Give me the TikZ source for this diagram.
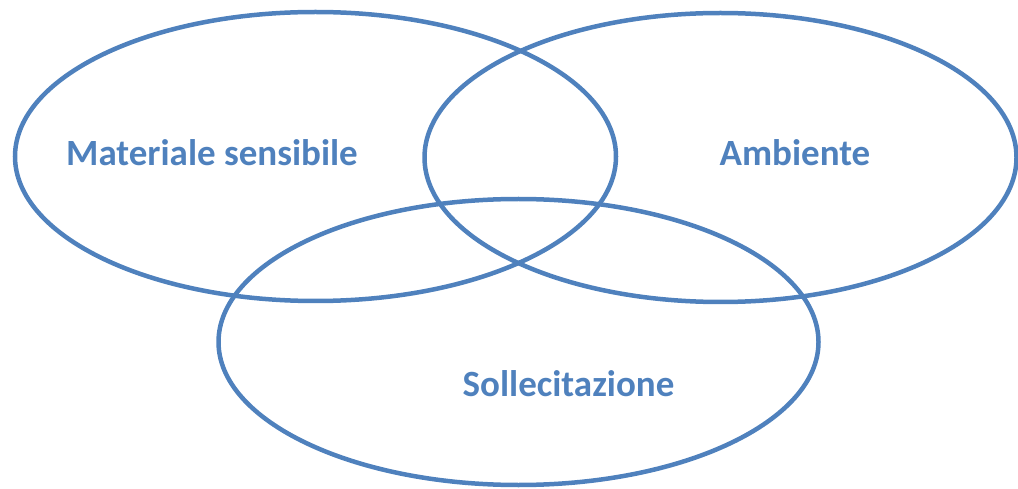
\documentclass[tikz,border=0pt]{standalone}
\usepackage{fontspec}
\setmainfont{Carlito}
\usetikzlibrary{shapes.geometric}
\definecolor{setblue}{HTML}{4F81BD}
\begin{document}
\begin{tikzpicture}[x=1pt,y=-1pt,
  setring/.style={ellipse,draw=setblue,line width=4.5pt,inner sep=0pt},
  setlabel/.style={anchor=base,text=setblue,font=\bfseries\fontsize{37}{44}\selectfont,inner sep=0pt}]
  \useasboundingbox (0,0) rectangle (1018,489);
  % the three overlapping sets
  \node[setring,minimum width=601pt,minimum height=289pt] (mat) at (315.5,156.5) {};
  \node[setring,minimum width=592pt,minimum height=289pt] (amb) at (720.5,157.5) {};
  \node[setring,minimum width=600pt,minimum height=286pt] (sol) at (518.5,342) {};
  % set names
  \node[setlabel] (tmat) at (212,166) {Materiale sensibile};
  \node[setlabel] (tamb) at (795,166) {Ambiente};
  \node[setlabel] (tsol) at (568.5,396) {Sollecitazione};
\end{tikzpicture}
\end{document}
